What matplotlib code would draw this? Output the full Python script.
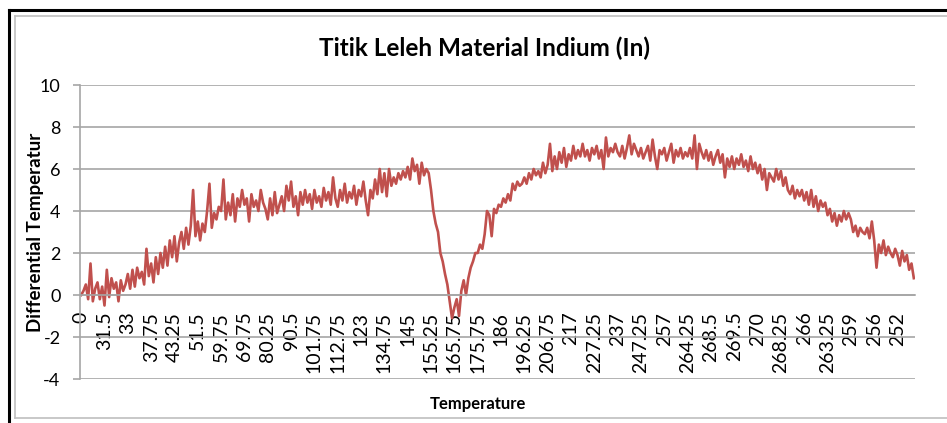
import numpy as np
import matplotlib
matplotlib.use("Agg")
import matplotlib.pyplot as plt
from matplotlib.lines import Line2D

# data ------------------------------------------------------------
# differential temperature, read off the picture block by block (10 points per label)
diff_temp = [
    0.0, 0.2, 0.5, -0.2, 1.5, -0.3, 0.3, 0.6, -0.2, 0.4,
    -0.5, 1.2, -0.1, 0.8, 0.3, 0.6, -0.3, 0.7, 0.2, 0.5,
    1.0, 0.3, 1.2, 0.4, 1.3, 0.8, 1.1, 0.5, 2.2, 0.9,
    1.5, 0.6, 1.8, 1.0, 2.0, 1.3, 2.3, 1.4, 2.6, 1.8,
    2.8, 1.6, 2.5, 3.0, 2.2, 3.2, 2.4, 3.3, 5.0, 2.8,
    3.5, 2.6, 3.4, 3.0, 4.0, 5.3, 3.2, 3.9, 3.6, 4.2,
    4.0, 5.5, 3.6, 4.4, 3.8, 4.8, 3.5, 4.6, 4.2, 5.0,
    4.3, 4.6, 3.5, 4.8, 4.2, 4.5, 4.0, 5.0, 4.4, 4.1,
    3.6, 4.6, 3.8, 4.9, 3.9, 4.3, 4.7, 4.0, 5.2, 4.5,
    5.4, 4.2, 4.7, 3.8, 4.9, 4.3, 5.0, 4.4, 4.8, 4.1,
    5.0, 4.4, 4.7, 4.2, 5.1, 4.5, 4.9, 4.3, 5.6, 4.6,
    4.2, 5.0, 4.5, 5.3, 4.4, 4.9, 4.6, 5.2, 4.3, 5.0,
    4.7, 5.4, 4.5, 3.8, 5.0, 4.6, 5.5, 4.8, 6.0, 4.9,
    5.8, 4.7, 6.0, 5.2, 5.6, 5.3, 5.8, 5.5, 5.9, 5.6,
    6.1, 5.5, 6.5, 5.9, 6.2, 5.3, 6.3, 5.7, 6.0, 5.8,
    5.0, 4.0, 3.4, 3.0, 2.0, 1.6, 1.0, 0.5, -0.3, -1.1,
    -0.6, -0.2, -1.0, 0.2, 0.7, 0.0, 0.8, 1.3, 1.6, 2.0,
    2.0, 2.4, 2.2, 2.9, 4.0, 3.8, 2.8, 4.1, 3.9, 4.3,
    4.2, 4.6, 4.4, 4.8, 4.5, 5.3, 5.0, 5.4, 5.2, 5.3,
    5.6, 5.3, 5.8, 5.5, 6.0, 5.7, 5.9, 5.6, 6.3, 5.8,
    6.2, 7.2, 5.9, 6.6, 6.0, 6.8, 6.3, 7.0, 6.1, 6.7,
    6.4, 7.1, 6.5, 6.9, 6.6, 7.2, 6.6, 6.9, 6.4, 7.0,
    6.7, 7.1, 6.5, 6.9, 6.0, 7.5, 6.6, 7.0, 6.8, 7.2,
    6.8, 6.6, 7.1, 6.5, 7.0, 7.6, 6.7, 7.2, 6.9, 6.6,
    7.0, 6.5, 6.8, 7.1, 6.4, 7.4, 6.6, 6.0, 6.9, 6.7,
    7.0, 6.4, 6.8, 7.2, 6.3, 6.9, 6.6, 7.0, 6.5, 6.8,
    6.6, 7.0, 6.5, 7.6, 6.0, 7.2, 6.8, 6.5, 6.9, 6.4,
    6.8, 6.2, 6.6, 6.9, 6.3, 6.7, 5.6, 6.5, 6.1, 6.6,
    6.0, 6.5, 6.2, 6.7, 6.1, 6.4, 5.9, 6.6, 6.0, 6.3,
    5.8, 6.2, 5.5, 6.0, 5.0, 5.8, 5.6, 5.4, 6.0, 5.5,
    5.9, 5.2, 5.6, 5.0, 4.8, 5.2, 4.6, 5.0, 4.7, 5.0,
    4.5, 4.9, 4.3, 5.0, 4.2, 4.7, 4.0, 4.5, 4.2, 4.4,
    3.8, 4.1, 3.5, 3.9, 3.3, 3.8, 3.5, 4.0, 3.6, 3.9,
    3.6, 3.0, 3.3, 2.8, 3.2, 3.0, 2.9, 3.2, 2.7, 3.5,
    2.6, 1.3, 2.4, 2.0, 2.6, 1.9, 2.3, 2.0, 1.8, 2.2,
    1.9, 1.4, 2.1, 1.6, 1.9, 1.2, 1.5, 0.8,
]

# temperature labels shown on the category axis (one every 10 points)
temp_labels = ["0", "31.5", "33", "37.75", "43.25", "51.5", "59.75", "69.75",
               "80.25", "90.5", "101.75", "112.75", "123", "134.75", "145",
               "155.25", "165.75", "175.75", "186", "196.25", "206.75", "217",
               "227.25", "237", "247.25", "257", "264.25", "268.5", "269.5",
               "270", "268.25", "266", "263.25", "259", "256", "252"]
label_step = 10

y_ticks = [-4, -2, 0, 2, 4, 6, 8, 10]

# plot ------------------------------------------------------------
plt.rcParams['font.family'] = ['Lato', 'DejaVu Sans']

W, H = 947, 423
fig = plt.figure(figsize=(W / 100, H / 100), dpi=100)
ax = fig.add_axes([80 / W, 1 - 379 / H, (915 - 80) / W, (379 - 85) / H])

x = np.arange(len(diff_temp))
ax.plot(x, diff_temp, color="#C0504D", lw=1.9, solid_joinstyle="round")

ax.set_xlim(-0.5, len(diff_temp) - 0.5)
ax.set_ylim(-4, 10)
ax.grid(axis="y", color="#A6A6A6", lw=1.2)
ax.set_axisbelow(True)

ax.tick_params(axis="x", length=0, pad=12, labelsize=14, labelrotation=90)
ax.tick_params(axis="y", length=5, width=1.2, color="#A6A6A6", pad=9, labelsize=13)

ax.set_yticks(y_ticks)
ax.set_yticklabels([str(v) for v in y_ticks])
ax.set_xticks(x[::label_step])
ax.set_xticklabels(temp_labels)
plt.setp(ax.get_xticklabels(), va="top", ha="center")

for s in ["top", "right"]:
    ax.spines[s].set_visible(False)
ax.spines["bottom"].set_position(("data", 0))
ax.spines["bottom"].set_color("#A6A6A6")
ax.spines["bottom"].set_linewidth(1.2)
ax.spines["left"].set_color("#A6A6A6")
ax.spines["left"].set_linewidth(1.2)

fig.text(484 / W, 1 - 48 / H, "Titik Leleh Material Indium (In)", fontsize=17.5,
         fontweight="bold", ha="center", va="center")
fig.text(35 / W, 1 - 232 / H, "Differential Temperatur", fontsize=13.5,
         fontweight="bold", rotation=90, ha="center", va="center")
fig.text(478 / W, 1 - 404 / H, "Temperature", fontsize=12,
         fontweight="bold", ha="center", va="center")

# chart frame (outer black, inner grey)
fig.add_artist(Line2D([9 / W, 9 / W], [0, 1 - 10 / H], color="black", lw=2.2))
fig.add_artist(Line2D([9 / W, 1], [1 - 10 / H, 1 - 10 / H], color="black", lw=2.2))
fig.add_artist(Line2D([15 / W, 15 / W], [1 - 418 / H, 1 - 16 / H], color="#BFBFBF", lw=1.2))
fig.add_artist(Line2D([15 / W, 1], [1 - 16 / H, 1 - 16 / H], color="#BFBFBF", lw=1.2))
fig.add_artist(Line2D([15 / W, 1], [1 - 418 / H, 1 - 418 / H], color="#BFBFBF", lw=1.2))

fig.savefig("out.png", dpi=100)
